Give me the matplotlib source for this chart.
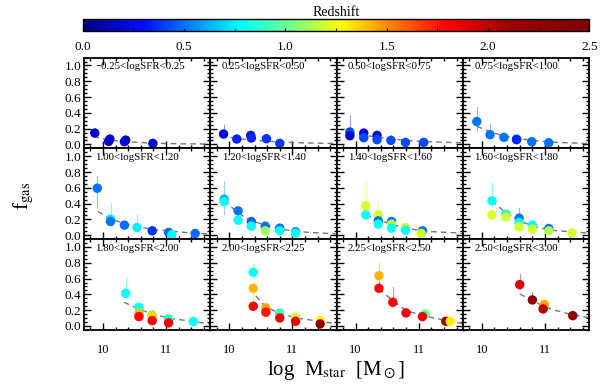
import matplotlib; matplotlib.use('Agg')
import matplotlib.pyplot as plt
import numpy as np
from matplotlib.colors import LinearSegmentedColormap, Normalize
from matplotlib.cm import ScalarMappable
from matplotlib.ticker import MultipleLocator

plt.rcParams['font.family'] = ['Liberation Serif', 'DejaVu Serif']
plt.rcParams['mathtext.fontset'] = 'stix'

panel_labels = ['\u22120.25<logSFR<0.25', '0.25<logSFR<0.50', '0.50<logSFR<0.75', '0.75<logSFR<1.00',
                '1.00<logSFR<1.20', '1.20<logSFR<1.40', '1.40<logSFR<1.60', '1.60<logSFR<1.80',
                '1.80<logSFR<2.00', '2.00<logSFR<2.25', '2.25<logSFR<2.50', '2.50<logSFR<3.00']

# binned points: log Mstar, f_gas, redshift, upper / lower error
mstar = [
    [9.87, 10.09, 10.11, 10.34, 10.36, 10.79],
    [9.91, 10.12, 10.34, 10.35, 10.59, 10.80],
    [9.91, 9.91, 10.13, 10.13, 10.34, 10.34, 10.56, 10.79, 11.08],
    [9.92, 10.13, 10.35, 10.55, 10.55, 10.79, 11.06],
    [9.91, 10.12, 10.12, 10.34, 10.54, 10.78, 11.04, 11.09, 11.46],
    [9.92, 9.92, 10.14, 10.14, 10.35, 10.35, 10.57, 10.57, 10.80, 10.80, 11.05, 11.05],
    [10.16, 10.16, 10.36, 10.36, 10.36, 10.57, 10.57, 10.57, 10.79, 10.79, 11.06, 11.04],
    [10.16, 10.16, 10.38, 10.38, 10.59, 10.59, 10.59, 10.80, 10.80, 11.06, 11.06, 11.43],
    [10.36, 10.57, 10.57, 10.57, 10.78, 10.78, 10.78, 11.04, 11.04, 11.04, 11.43],
    [10.38, 10.38, 10.38, 10.58, 10.58, 10.80, 10.80, 11.05, 11.05, 11.44, 11.44],
    [10.37, 10.37, 10.59, 10.80, 11.10, 11.06, 11.43, 11.50],
    [10.60, 10.80, 10.99, 10.97, 11.44],
]
fgas = [
    [0.144, 0.038, 0.068, 0.034, 0.055, 0.013],
    [0.131, 0.068, 0.114, 0.081, 0.072, 0.013],
    [0.157, 0.11, 0.144, 0.085, 0.114, 0.06, 0.051, 0.025, 0.025],
    [0.29, 0.123, 0.089, 0.068, 0.06, 0.034, 0.021],
    [0.595, 0.203, 0.173, 0.127, 0.097, 0.055, 0.034, 0.004, 0.021],
    [0.456, 0.426, 0.308, 0.19, 0.173, 0.114, 0.114, 0.055, 0.089, 0.055, 0.042, 0.025],
    [0.371, 0.257, 0.257, 0.181, 0.139, 0.173, 0.139, 0.089, 0.097, 0.063, 0.055, 0.021],
    [0.435, 0.257, 0.266, 0.232, 0.215, 0.16, 0.105, 0.127, 0.076, 0.084, 0.055, 0.025],
    [0.414, 0.236, 0.16, 0.118, 0.139, 0.13, 0.067, 0.089, 0.085, 0.038, 0.055],
    [0.68, 0.477, 0.249, 0.228, 0.173, 0.165, 0.101, 0.11, 0.059, 0.067, 0.025],
    [0.637, 0.477, 0.30, 0.165, 0.152, 0.118, 0.059, 0.059],
    [0.523, 0.329, 0.27, 0.215, 0.13],
]
zred = [
    [0.2, 0.22, 0.18, 0.22, 0.18, 0.2],
    [0.22, 0.35, 0.3, 0.35, 0.38, 0.4],
    [0.42, 0.18, 0.22, 0.42, 0.22, 0.42, 0.42, 0.42, 0.42],
    [0.5, 0.5, 0.5, 0.5, 0.35, 0.5, 0.5],
    [0.5, 0.75, 0.5, 0.48, 0.75, 0.38, 0.48, 0.78, 0.48],
    [0.6, 0.78, 0.5, 0.8, 0.48, 0.8, 0.5, 1.1, 0.5, 0.8, 0.5, 0.8],
    [1.2, 0.8, 1.2, 0.5, 0.8, 0.5, 1.15, 0.8, 1.2, 0.8, 0.5, 1.2],
    [0.8, 1.22, 0.8, 1.2, 0.5, 0.8, 1.2, 0.78, 1.2, 0.5, 1.15, 1.2],
    [0.8, 0.8, 1.4, 1.8, 0.9, 1.35, 1.8, 1.15, 0.85, 1.85, 0.8],
    [0.8, 1.42, 1.8, 1.45, 1.75, 0.9, 1.85, 1.2, 1.85, 1.3, 2.2],
    [1.42, 1.8, 1.8, 1.85, 1.0, 1.85, 2.2, 1.3],
    [1.9, 2.25, 1.45, 2.05, 2.25],
]
err_up = [
    [0.07, 0.02, 0.06, 0.02, 0.02, 0.01],
    [0.11, 0.02, 0.03, 0.02, 0.02, 0.01],
    [0.22, 0.02, 0.03, 0.02, 0.02, 0.02, 0.07, 0.02, 0.02],
    [0.19, 0.14, 0.03, 0.02, 0.02, 0.02, 0.02],
    [0.155, 0.2, 0.03, 0.03, 0.17, 0.02, 0.02, 0.02, 0.02],
    [0.23, 0.05, 0.05, 0.03, 0.03, 0.02, 0.03, 0.02, 0.02, 0.02, 0.02, 0.02],
    [0.30, 0.05, 0.16, 0.03, 0.03, 0.03, 0.03, 0.02, 0.03, 0.02, 0.02, 0.02],
    [0.235, 0.05, 0.05, 0.03, 0.135, 0.03, 0.03, 0.03, 0.02, 0.02, 0.02, 0.02],
    [0.21, 0.04, 0.04, 0.03, 0.03, 0.03, 0.02, 0.02, 0.02, 0.02, 0.02],
    [0.1, 0.05, 0.04, 0.04, 0.03, 0.03, 0.02, 0.02, 0.02, 0.02, 0.02],
    [0.17, 0.08, 0.19, 0.03, 0.03, 0.03, 0.02, 0.02],
    [0.14, 0.1, 0.04, 0.03, 0.02],
]
err_dn = [
    [0.03, 0.02, 0.02, 0.02, 0.02, 0.01],
    [0.04, 0.02, 0.02, 0.02, 0.02, 0.01],
    [0.06, 0.02, 0.02, 0.02, 0.02, 0.02, 0.02, 0.02, 0.02],
    [0.125, 0.04, 0.02, 0.02, 0.02, 0.02, 0.02],
    [0.245, 0.05, 0.03, 0.03, 0.03, 0.02, 0.02, 0.0, 0.02],
    [0.19, 0.05, 0.05, 0.03, 0.03, 0.02, 0.03, 0.02, 0.02, 0.02, 0.02, 0.02],
    [0.1, 0.05, 0.05, 0.03, 0.03, 0.03, 0.03, 0.02, 0.03, 0.02, 0.02, 0.02],
    [0.08, 0.05, 0.05, 0.03, 0.05, 0.03, 0.03, 0.03, 0.02, 0.02, 0.02, 0.02],
    [0.08, 0.04, 0.04, 0.03, 0.03, 0.03, 0.02, 0.02, 0.02, 0.02, 0.02],
    [0.06, 0.23, 0.04, 0.04, 0.03, 0.03, 0.02, 0.02, 0.02, 0.02, 0.02],
    [0.16, 0.05, 0.05, 0.03, 0.03, 0.03, 0.02, 0.02],
    [0.05, 0.04, 0.04, 0.03, 0.02],
]

# dashed model curves
model_m = [
    [9.85, 10.1, 10.35, 10.8, 11.2, 11.7],
    [9.87, 10.12, 10.35, 10.8, 11.2, 11.7],
    [9.9, 10.15, 10.35, 10.8, 11.1, 11.7],
    [9.92, 10.13, 10.35, 10.8, 11.2, 11.7],
    [9.92, 10.12, 10.35, 10.8, 11.45, 11.7],
    [9.92, 10.14, 10.35, 10.8, 11.07, 11.7],
    [10.16, 10.37, 10.58, 10.8, 11.08, 11.7],
    [10.16, 10.38, 10.59, 10.8, 11.06, 11.7],
    [10.33, 10.57, 10.78, 11.04, 11.43, 11.7],
    [10.42, 10.58, 10.8, 11.05, 11.44, 11.7],
    [10.37, 10.59, 10.8, 11.07, 11.43, 11.7],
    [10.60, 10.80, 10.99, 11.18, 11.44, 11.7],
]
model_f = [
    [0.10, 0.055, 0.035, 0.015, 0.008, 0.005],
    [0.11, 0.075, 0.055, 0.03, 0.018, 0.012],
    [0.14, 0.115, 0.09, 0.05, 0.035, 0.02],
    [0.23, 0.16, 0.105, 0.05, 0.025, 0.01],
    [0.30, 0.21, 0.14, 0.07, 0.025, 0.015],
    [0.44, 0.28, 0.18, 0.08, 0.045, 0.015],
    [0.26, 0.19, 0.135, 0.09, 0.05, 0.025],
    [0.44, 0.28, 0.18, 0.12, 0.065, 0.025],
    [0.30, 0.215, 0.15, 0.10, 0.055, 0.025],
    [0.38, 0.24, 0.16, 0.10, 0.06, 0.025],
    [0.47, 0.32, 0.195, 0.13, 0.067, 0.03],
    [0.405, 0.32, 0.245, 0.194, 0.139, 0.105],
]

# IDL-like rainbow table as it appears on the colour bar
cmap = LinearSegmentedColormap.from_list('idl_rainbow', [
    (0.0, (0.0, 0.0, 0.5)), (0.12, (0.0, 0.05, 1.0)), (0.2, (0.0, 0.45, 1.0)),
    (0.31, (0.0, 1.0, 1.0)), (0.42, (0.5, 1.0, 0.5)), (0.51, (1.0, 1.0, 0.0)),
    (0.6, (1.0, 0.55, 0.0)), (0.72, (1.0, 0.0, 0.0)), (0.85, (0.6, 0.0, 0.0)),
    (1.0, (0.5, 0.0, 0.0))])
norm = Normalize(0.0, 2.5)

fig = plt.figure(figsize=(6, 3.84), dpi=100)
gs = fig.add_gridspec(3, 4, left=0.14, right=0.982, top=0.85, bottom=0.141, wspace=0, hspace=0)

for k in range(12):
    r, c = divmod(k, 4)
    ax = fig.add_subplot(gs[r, c])
    ax.plot(model_m[k], model_f[k], '--', color='#777777', lw=1.0, dashes=(4, 3), zorder=2)
    for m, f, z, eu, ed in zip(mstar[k], fgas[k], zred[k], err_up[k], err_dn[k]):
        col = cmap(norm(z))
        ax.plot([m, m], [f - ed, f + eu], color=col, lw=0.8, alpha=0.45, zorder=3)
        ax.scatter(m, f, s=46, color=col, edgecolors='none', zorder=4)
    ax.set_xlim(9.7, 11.7)
    ax.set_ylim(-0.05, 1.1)
    ax.xaxis.set_major_locator(MultipleLocator(1))
    ax.xaxis.set_minor_locator(MultipleLocator(0.2))
    ax.yaxis.set_major_locator(MultipleLocator(0.2))
    ax.yaxis.set_minor_locator(MultipleLocator(0.05))
    ax.tick_params(which='both', direction='in', top=True, right=True, width=1.0)
    ax.tick_params(which='major', length=5)
    ax.tick_params(which='minor', length=2.5)
    ax.tick_params(axis='y', labelsize=9.5, pad=2)
    ax.tick_params(axis='x', labelsize=9, pad=10)
    for sp in ax.spines.values():
        sp.set_linewidth(1.3)
    if c != 0:
        ax.set_yticklabels([])
    else:
        ax.set_yticklabels(['%.1f' % v for v in ax.get_yticks()])
    if r != 2:
        ax.set_xticklabels([])
    ax.text(0.09, 0.95, panel_labels[k], transform=ax.transAxes, fontsize=7.8,
            va='top', ha='left')

cax = fig.add_axes([0.138, 0.919, 0.844, 0.032])
cb = fig.colorbar(ScalarMappable(norm=norm, cmap=cmap), cax=cax, orientation='horizontal')
cb.set_ticks([0.0, 0.5, 1.0, 1.5, 2.0, 2.5])
cb.ax.xaxis.set_minor_locator(MultipleLocator(0.25))
cb.ax.tick_params(which='both', direction='in', length=2, labelsize=9.5, pad=7)
cb.outline.set_linewidth(1.0)
cb.ax.set_title('Redshift', fontsize=10, pad=2)

fig.text(0.56, 0.035, r'log  M$_{\rm star}$  [M$_\odot$]', ha='center', va='center', fontsize=15)
fig.text(0.04, 0.49, r'f$_{\rm gas}$', ha='center', va='center', rotation=90, fontsize=15)

plt.savefig('out.png', dpi=100)
plt.close()
